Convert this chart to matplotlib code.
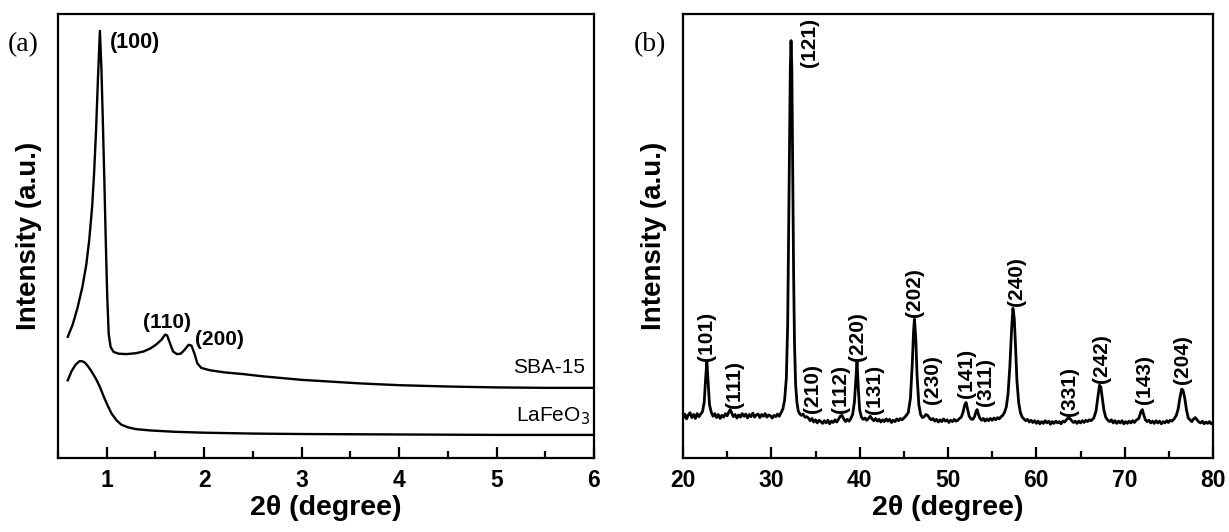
import matplotlib
matplotlib.use("Agg")
import matplotlib.pyplot as plt
from matplotlib.ticker import MultipleLocator

# ---------------- Panel (a): low-angle XRD ----------------
two_theta_sba = [0.60, 0.65, 0.70, 0.75, 0.79, 0.82, 0.85, 0.87, 0.89, 0.91, 0.93,
                 0.945, 0.96, 0.975, 0.99, 1.005, 1.02, 1.04, 1.07, 1.12, 1.20, 1.30,
                 1.38, 1.45, 1.51, 1.56, 1.60, 1.62, 1.65, 1.68, 1.72, 1.76, 1.80,
                 1.84, 1.87, 1.90, 1.93, 1.97, 2.05, 2.20, 2.40, 2.60, 2.80, 3.00,
                 3.30, 3.60, 4.00, 4.50, 5.00, 5.50, 6.00]
intensity_sba = [27.3, 30.0, 33.8, 38.5, 43.5, 49.0, 56.5, 64.0, 73.5, 85.5, 96.2,
                 88.0, 76.0, 63.0, 49.0, 36.5, 28.0, 25.0, 23.9, 23.5, 23.4, 23.6,
                 24.0, 24.7, 25.6, 26.6, 27.8, 27.6, 25.8, 24.0, 23.4, 23.5, 24.4,
                 25.5, 25.3, 23.5, 21.3, 20.3, 19.8, 19.3, 18.9, 18.4, 18.0, 17.6,
                 17.2, 16.8, 16.4, 16.1, 15.9, 15.8, 15.8]

two_theta_lfo = [0.60, 0.64, 0.68, 0.72, 0.75, 0.78, 0.81, 0.85, 0.89, 0.93, 0.97,
                 1.01, 1.05, 1.10, 1.15, 1.22, 1.30, 1.45, 1.70, 2.00, 2.50, 3.00,
                 4.00, 5.00, 6.00]
intensity_lfo = [17.5, 19.6, 21.0, 21.8, 21.8, 21.4, 20.6, 19.3, 17.8, 16.0, 13.8,
                 11.8, 10.0, 8.5, 7.5, 6.9, 6.5, 6.2, 5.9, 5.7, 5.5, 5.4,
                 5.3, 5.2, 5.2]

peaks_a_labels = ["(100)", "(110)", "(200)"]
peaks_a_x = [1.034, 1.62, 2.153]
peaks_a_y = [93.5, 30.5, 26.6]

# ---------------- Panel (b): wide-angle XRD of LaFeO3 ----------------
two_theta_b = [
    20.0, 20.2, 20.4, 20.6, 20.8, 21.0, 21.2, 21.4, 21.6, 21.8,
    22.0, 22.2, 22.4, 22.55, 22.7, 22.85, 23.0, 23.2, 23.4, 23.6, 23.8,
    24.0, 24.2, 24.4, 24.6, 24.8, 25.0, 25.2, 25.35, 25.5, 25.7, 25.9,
    26.1, 26.3, 26.5, 26.7, 26.9, 27.1, 27.3, 27.5, 27.7, 27.9,
    28.1, 28.3, 28.5, 28.7, 28.9, 29.1, 29.3, 29.5, 29.7, 29.9,
    30.1, 30.3, 30.5, 30.7, 30.9, 31.1, 31.3, 31.5, 31.7, 31.85,
    31.95, 32.05, 32.15, 32.23, 32.32, 32.42, 32.52, 32.62, 32.75, 32.9,
    33.05, 33.2, 33.4, 33.6, 33.8, 34.0, 34.2, 34.4, 34.6, 34.8,
    35.0, 35.2, 35.4, 35.6, 35.8, 36.0, 36.2, 36.4, 36.6, 36.8,
    37.0, 37.2, 37.4, 37.6, 37.8, 38.0, 38.2, 38.4, 38.6, 38.8,
    39.0, 39.2, 39.4, 39.55, 39.7, 39.85, 40.0, 40.2, 40.4, 40.6, 40.8,
    41.0, 41.2, 41.4, 41.6, 41.8, 42.0, 42.2, 42.4, 42.6, 42.8,
    43.0, 43.2, 43.4, 43.6, 43.8, 44.0, 44.2, 44.4, 44.6, 44.8,
    45.0, 45.2, 45.5, 45.75, 45.95, 46.1, 46.2, 46.35, 46.5, 46.7, 46.9,
    47.1, 47.3, 47.5, 47.7, 47.9, 48.1, 48.3, 48.5, 48.7, 48.9,
    49.1, 49.3, 49.5, 49.7, 49.9, 50.1, 50.3, 50.5, 50.7, 50.9,
    51.1, 51.3, 51.5, 51.7, 51.9, 52.05, 52.2, 52.4, 52.6, 52.8,
    53.0, 53.2, 53.3, 53.45, 53.6, 53.8, 54.0, 54.2, 54.4, 54.6, 54.8,
    55.0, 55.2, 55.4, 55.6, 55.8, 56.0, 56.2, 56.4, 56.6, 56.8,
    57.0, 57.2, 57.35, 57.5, 57.65, 57.8, 58.0, 58.2, 58.4, 58.6, 58.8,
    59.0, 59.2, 59.4, 59.6, 59.8, 60.0, 60.2, 60.4, 60.6, 60.8,
    61.0, 61.2, 61.4, 61.6, 61.8, 62.0, 62.2, 62.4, 62.6, 62.8,
    63.0, 63.2, 63.4, 63.6, 63.8, 64.0, 64.2, 64.4, 64.6, 64.8,
    65.0, 65.2, 65.4, 65.6, 65.8, 66.0, 66.2, 66.5, 66.75, 66.95,
    67.15, 67.3, 67.45, 67.65, 67.85, 68.05, 68.3, 68.5, 68.7, 68.9,
    69.1, 69.3, 69.5, 69.7, 69.9, 70.1, 70.3, 70.5, 70.7, 70.9,
    71.1, 71.3, 71.6, 71.85, 72.0, 72.15, 72.35, 72.55, 72.75, 72.95,
    73.15, 73.35, 73.55, 73.75, 73.95, 74.15, 74.35, 74.55, 74.75, 74.95,
    75.15, 75.35, 75.6, 75.85, 76.05, 76.25, 76.45, 76.6, 76.8, 77.0,
    77.2, 77.4, 77.6, 77.8, 78.0, 78.2, 78.4, 78.6, 78.8, 79.0,
    79.2, 79.4, 79.6, 79.8, 80.0]
intensity_b = [
    9.0, 9.9, 8.8, 9.7, 10.2, 9.1, 9.8, 8.9, 10.0, 9.3,
    9.9, 10.4, 12.5, 17.5, 21.9, 17.0, 12.0, 10.3, 9.4, 10.0, 9.1,
    9.8, 8.9, 9.6, 9.2, 10.0, 9.5, 10.4, 10.9, 10.2, 9.3, 9.8,
    9.0, 9.7, 9.2, 10.0, 9.4, 9.9, 9.0, 9.8, 9.3, 10.1,
    9.2, 9.7, 9.9, 9.1, 9.8, 9.4, 10.0, 9.2, 9.7, 9.5,
    9.0, 9.6, 9.3, 9.9, 9.4, 10.2, 11.0, 13.0, 18.0, 30.0,
    50.0, 72.0, 88.0, 94.0, 88.0, 65.0, 42.0, 26.0, 16.5, 12.5,
    10.6, 10.0, 9.6, 9.9, 9.2, 9.3, 9.0, 8.4, 8.9, 8.1,
    8.6, 7.9, 8.5, 8.2, 7.8, 8.4, 7.9, 8.5, 7.7, 8.3,
    8.0, 8.6, 8.1, 8.7, 9.4, 9.6, 8.8, 8.2, 8.7, 8.3,
    8.9, 9.8, 12.5, 17.0, 21.9, 15.5, 10.8, 9.2, 8.7, 9.0, 8.5,
    8.9, 9.4, 8.8, 8.4, 8.9, 8.3, 8.7, 8.1, 8.6, 8.2,
    8.8, 8.3, 8.7, 8.0, 8.5, 8.2, 8.8, 8.4, 8.9, 8.6,
    9.0, 9.4, 10.2, 13.5, 21.0, 28.5, 31.3, 27.0, 18.5, 12.0, 9.8,
    9.1, 9.3, 9.8, 9.6, 9.0, 8.6, 8.9, 8.3, 8.7, 8.1,
    8.6, 8.2, 8.8, 8.3, 8.6, 8.0, 8.5, 8.2, 8.7, 8.3,
    8.5, 8.9, 9.2, 10.3, 12.0, 12.5, 11.2, 9.4, 8.8, 8.7,
    9.3, 10.6, 10.9, 9.8, 9.0, 8.5, 8.9, 8.3, 8.8, 8.4, 8.9,
    8.5, 9.0, 8.6, 9.1, 8.8, 9.3, 9.6, 10.3, 11.5, 14.5,
    20.5, 29.0, 33.7, 31.5, 25.0, 17.5, 12.5, 10.2, 9.2, 8.8, 8.4,
    8.7, 8.1, 8.5, 8.0, 8.4, 7.8, 8.3, 7.7, 8.2, 7.8,
    8.4, 7.9, 8.3, 7.6, 8.2, 7.8, 8.3, 7.9, 8.2, 7.7,
    8.3, 8.1, 8.6, 9.0, 8.9, 8.4, 8.0, 8.3, 7.8, 8.3,
    7.9, 8.4, 8.0, 8.5, 8.2, 8.6, 8.4, 9.0, 10.5, 13.5,
    16.4, 16.0, 13.8, 10.8, 9.2, 8.6, 8.2, 8.6, 7.9, 8.4,
    7.8, 8.3, 7.9, 8.4, 7.7, 8.2, 7.8, 8.3, 7.9, 8.4,
    8.0, 8.5, 8.9, 10.5, 10.9, 9.8, 8.6, 8.2, 8.5, 7.9,
    8.3, 7.8, 8.4, 7.9, 8.3, 7.7, 8.2, 7.9, 8.4, 8.0,
    8.5, 8.3, 8.8, 9.6, 11.0, 13.5, 15.5, 15.3, 13.5, 10.8,
    9.0, 8.6, 8.2, 8.8, 9.1, 8.6, 8.1, 7.9, 8.3, 7.7,
    8.1, 7.8, 8.2, 7.7, 8.0]

peaks_b_labels = ["(101)", "(111)", "(121)", "(210)", "(112)", "(220)", "(131)",
                  "(202)", "(230)", "(141)", "(311)", "(240)", "(331)", "(242)",
                  "(143)", "(204)"]
peaks_b_x = [22.7, 25.8, 34.3, 34.7, 37.8, 39.75, 41.7, 46.2, 48.2, 52.05, 54.3,
             57.7, 63.8, 67.4, 72.3, 76.5]
peaks_b_y = [21.9, 11.3, 88.0, 10.2, 10.2, 21.9, 9.8, 31.7, 12.1, 13.6, 11.7,
             34.3, 9.4, 17.0, 12.1, 16.6]

# ---------------- Figure ----------------
plt.rcParams['font.family'] = ['Liberation Sans', 'DejaVu Sans']
fig = plt.figure(figsize=(12.29, 5.32), dpi=100)
ax_a = fig.add_axes([58 / 1229, 74 / 532, 536 / 1229, 444 / 532])
ax_b = fig.add_axes([683 / 1229, 74 / 532, 530 / 1229, 444 / 532])

ax_a.plot(two_theta_sba, intensity_sba, color='black', lw=1.7, solid_joinstyle='round')
ax_a.plot(two_theta_lfo, intensity_lfo, color='black', lw=1.7, solid_joinstyle='round')
ax_b.plot(two_theta_b, intensity_b, color='black', lw=2.0, solid_joinstyle='round')

ax_a.set_xlim(0.5, 6)
ax_b.set_xlim(20, 80)
ax_a.xaxis.set_major_locator(MultipleLocator(1))
ax_a.xaxis.set_minor_locator(MultipleLocator(0.5))
ax_b.xaxis.set_major_locator(MultipleLocator(10))
ax_b.xaxis.set_minor_locator(MultipleLocator(5))

for ax in (ax_a, ax_b):
    ax.set_ylim(0, 100)
    ax.set_yticks([])
    for sp in ax.spines.values():
        sp.set_linewidth(1.6)
    ax.tick_params(axis='x', which='both', direction='in', top=False, width=1.6,
                   labelsize=16.5, pad=8)
    ax.tick_params(axis='x', which='major', length=8)
    ax.tick_params(axis='x', which='minor', length=5)
    for lab in ax.get_xticklabels():
        lab.set_fontweight('bold')
    ax.set_xlabel('2θ (degree)', fontsize=20.5, fontweight='bold')
    ax.xaxis.set_label_coords(0.5, -0.083)
    ax.set_ylabel('Intensity (a.u.)', fontsize=20, fontweight='bold')
    ax.yaxis.set_label_coords(-0.03, 0.5)

# peak labels panel (a)
ax_a.text(peaks_a_x[0], peaks_a_y[0], peaks_a_labels[0], fontsize=15.5,
          fontweight='bold', ha='left', va='center')
for lbl, x, y in zip(peaks_a_labels[1:], peaks_a_x[1:], peaks_a_y[1:]):
    ax_a.text(x, y, lbl, fontsize=15, fontweight='bold', ha='center', va='center')
ax_a.text(5.91, 20.3, 'SBA-15', fontsize=15, ha='right', va='center')
ax_a.text(5.96, 9.5, 'LaFeO$_3$', fontsize=15, ha='right', va='center')

# peak labels panel (b)
for lbl, x, y in zip(peaks_b_labels, peaks_b_x, peaks_b_y):
    ax_b.text(x, y, lbl, fontsize=15, fontweight='bold', rotation=90,
              ha='center', va='bottom')

fig.text(8 / 1229, 1 - 45 / 532, '(a)', family='Liberation Serif', fontsize=20,
         ha='left', va='center')
fig.text(634 / 1229, 1 - 45 / 532, '(b)', family='Liberation Serif', fontsize=20,
         ha='left', va='center')

fig.savefig('out.png', dpi=100)
